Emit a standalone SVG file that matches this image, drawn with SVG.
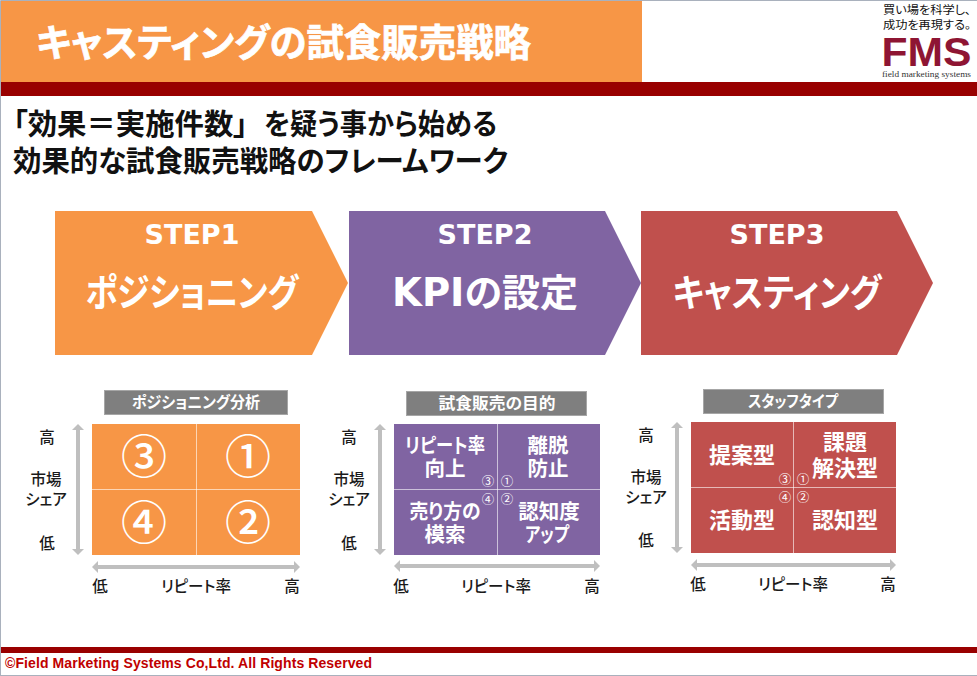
<svg xmlns="http://www.w3.org/2000/svg" width="977" height="676" viewBox="0 0 977 676">
<style>
text{font-family:"Noto Sans CJK JP","Liberation Sans",sans-serif;text-anchor:middle;font-feature-settings:"palt"}
.w{fill:#fff;font-weight:700}
.k{fill:#1a1a1a;font-size:15.5px;font-weight:500}
.step{font-family:"DejaVu Sans","Noto Sans",sans-serif;font-size:27px;fill:#fff;font-weight:700}
.big{font-size:38px;fill:#fff;font-weight:700}
.lat{font-family:"DejaVu Sans",sans-serif;font-size:38.5px}
.cell{font-size:20.5px;fill:#fff;font-weight:700}
.c3{font-size:22px}
.tag{font-size:16px;fill:#fff;font-weight:700}
.num{font-size:46px;fill:#fff;font-weight:500}
.sm{font-size:12.5px;fill:#fff;font-weight:400}
.div{stroke:#fff;stroke-opacity:.6;stroke-width:1}
.ax{stroke:#bfbfbf;stroke-width:4;fill:none;marker-start:url(#h);marker-end:url(#h)}
.tagbox{fill:#7f7f7f;stroke:#a6a6a6}
.sub{font-size:29px;font-weight:700;fill:#111;text-anchor:start}
.srf{font-family:"Liberation Serif","Noto Sans CJK JP",serif;font-size:11.5px;fill:#111}
</style>
<defs>
<marker id="h" markerUnits="userSpaceOnUse" markerWidth="6" markerHeight="12" refX="1" refY="6" orient="auto-start-reverse"><path d="M0 0L6 6L0 12Z" fill="#bfbfbf"/></marker>
</defs>
<rect width="977" height="676" fill="#fff"/>
<path d="M.5 676V.5H977M0 675.5H977" fill="none" stroke="#a9b1bd"/>
<g id="header">
<rect x="1" y="1" width="641" height="81" fill="#f79646"/>
<rect x="1" y="82" width="976" height="14" fill="#990000"/>
<text x="283.500" y="56" class="w" font-size="38" stroke="#fff" stroke-width=".7" textLength="495" lengthAdjust="spacingAndGlyphs">キャスティングの試食販売戦略</text>
</g>
<g id="logo">
<text x="927" y="14" class="srf" textLength="88" lengthAdjust="spacingAndGlyphs">買い場を科学し、</text>
<text x="927" y="29" class="srf" textLength="88" lengthAdjust="spacingAndGlyphs">成功を再現する。</text>
<text x="926.500" y="66" font-size="40" font-weight="700" style="font-family:'Liberation Sans',sans-serif" fill="#8e1533" textLength="90" lengthAdjust="spacingAndGlyphs">FMS</text>
<text x="926.500" y="77" font-size="9" style="font-family:'Liberation Serif',serif" fill="#333" textLength="89" lengthAdjust="spacingAndGlyphs">field marketing systems</text>
</g>
<g id="subtitle">
<text class="sub" y="134.500"><tspan x="13" textLength="235" lengthAdjust="spacingAndGlyphs">「効果＝実施件数」</tspan><tspan x="264" textLength="233" lengthAdjust="spacingAndGlyphs">を疑う事から始める</tspan></text>
<text x="13" y="171.500" class="sub" textLength="495" lengthAdjust="spacingAndGlyphs">効果的な試食販売戦略のフレームワーク</text>
</g>
<g id="step1">
<path d="M55 211H312L348 283L312 355H55Z" fill="#f79646"/>
<text x="192" y="244" class="step">STEP1</text>
<text x="192" y="306" class="big" textLength="213" lengthAdjust="spacingAndGlyphs">ポジショニング</text>
</g>
<g id="step2">
<path d="M349 211H605L641 283L605 355H349Z" fill="#8064a2"/>
<text x="485" y="244" class="step">STEP2</text>
<text x="485" y="306" class="big"><tspan class="lat">KPI</tspan>の設定</text>
</g>
<g id="step3">
<path d="M641 211H897L933 283L897 355H641Z" fill="#c0504d"/>
<text x="777" y="244" class="step">STEP3</text>
<text x="777" y="306" class="big" textLength="209" lengthAdjust="spacingAndGlyphs">キャスティング</text>
</g>
<g id="connectors">
<path class="ax" d="M78 429V550"/>
<path class="ax" d="M97 567H295"/>
<path class="ax" d="M380 429V550"/>
<path class="ax" d="M399 566H595"/>
<path class="ax" d="M677 427V548"/>
<path class="ax" d="M696 565H891"/>
</g>
<g id="matrix1">
<rect x="104.500" y="390.500" width="183" height="24" class="tagbox"/>
<text x="196" y="408" class="tag" textLength="128" lengthAdjust="spacingAndGlyphs">ポジショニング分析</text>
<rect x="92" y="424" width="208" height="131" fill="#f79646"/>
<path class="div" d="M196.500 424V555M92 489.500H300"/>
<text x="144" y="473" class="num">③</text><text x="248" y="473" class="num">①</text>
<text x="144" y="539" class="num">④</text><text x="248" y="539" class="num">②</text>
<text x="47" y="443" class="k">高</text><text class="k"><tspan x="46" y="485">市場</tspan><tspan x="46" y="505">シェア</tspan></text><text x="47" y="549" class="k">低</text>
<text x="100" y="592" class="k">低</text><text x="196" y="592" class="k">リピート率</text><text x="292" y="592" class="k">高</text>
</g>
<g id="matrix2">
<rect x="406.500" y="391.500" width="180" height="24" class="tagbox"/>
<text x="497" y="409" class="tag" textLength="117" lengthAdjust="spacingAndGlyphs">試食販売の目的</text>
<rect x="394" y="424" width="206" height="131" fill="#8064a2"/>
<path class="div" d="M497.500 424V555M394 489.500H600"/>
<text class="cell"><tspan x="445" y="453" textLength="80" lengthAdjust="spacingAndGlyphs">リピート率</tspan><tspan x="445" y="476">向上</tspan></text>
<text class="cell"><tspan x="548" y="453">離脱</tspan><tspan x="548" y="476">防止</tspan></text>
<text class="cell"><tspan x="445" y="519" textLength="71" lengthAdjust="spacingAndGlyphs">売り方の</tspan><tspan x="445" y="542">模索</tspan></text>
<text class="cell"><tspan x="549" y="519">認知度</tspan><tspan x="547" y="542" textLength="44" lengthAdjust="spacingAndGlyphs">アップ</tspan></text>
<text x="488" y="486" class="sm">③</text><text x="507" y="486" class="sm">①</text><text x="488" y="504" class="sm">④</text><text x="507" y="504" class="sm">②</text>
<text x="349" y="443" class="k">高</text><text class="k"><tspan x="349" y="485">市場</tspan><tspan x="349" y="505">シェア</tspan></text><text x="349" y="549" class="k">低</text>
<text x="401" y="592" class="k">低</text><text x="496" y="592" class="k">リピート率</text><text x="592" y="592" class="k">高</text>
</g>
<g id="matrix3">
<rect x="703.500" y="389.500" width="180" height="24" class="tagbox"/>
<text x="793" y="407" class="tag" textLength="90" lengthAdjust="spacingAndGlyphs">スタッフタイプ</text>
<rect x="691" y="422" width="205" height="131" fill="#c0504d"/>
<path class="div" d="M793.500 422V553M691 487.500H896"/>
<text x="742" y="463" class="cell c3">提案型</text>
<text class="cell c3"><tspan x="845" y="450">課題</tspan><tspan x="845" y="476">解決型</tspan></text>
<text x="742" y="528" class="cell c3">活動型</text><text x="845" y="528" class="cell c3">認知型</text>
<text x="785" y="484" class="sm">③</text><text x="803" y="484" class="sm">①</text><text x="785" y="502" class="sm">④</text><text x="803" y="502" class="sm">②</text>
<text x="646" y="441" class="k">高</text><text class="k"><tspan x="646" y="483">市場</tspan><tspan x="646" y="503">シェア</tspan></text><text x="646" y="546" class="k">低</text>
<text x="698" y="590" class="k">低</text><text x="793" y="590" class="k">リピート率</text><text x="888" y="590" class="k">高</text>
</g>
<g id="footer">
<rect x="1" y="647" width="976" height="6" fill="#990000"/>
<text x="5" y="668" style="font-family:'Liberation Sans',sans-serif;text-anchor:start" font-size="14" font-weight="700" fill="#c00000" textLength="367">©Field Marketing Systems Co,Ltd. All Rights Reserved</text>
</g>
</svg>
